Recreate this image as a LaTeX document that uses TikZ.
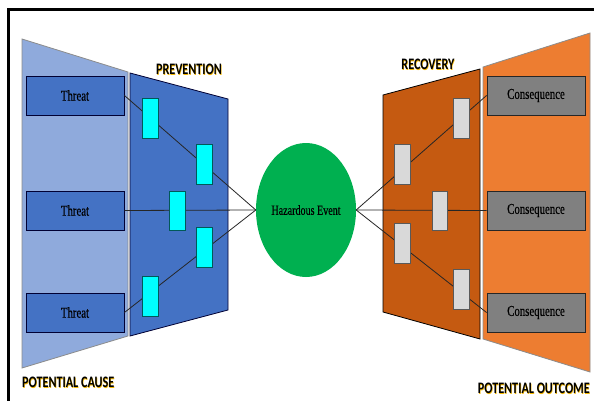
\documentclass[tikz,border=0pt]{standalone}
\usepackage{fontspec}
\setmainfont{Liberation Serif}
\newfontfamily\boxfont[FakeStretch=0.72,FakeBold=0.4]{Liberation Serif}
\newfontfamily\labfont[FakeStretch=0.76]{Carlito}
\usetikzlibrary{shapes.geometric}
\definecolor{causeblue}{HTML}{8FAADC}
\definecolor{prevblue}{HTML}{4472C4}
\definecolor{recorange}{HTML}{C55A11}
\definecolor{outorange}{HTML}{ED7D31}
\definecolor{hazgreen}{HTML}{00B050}
\definecolor{barcyan}{HTML}{00FFFF}
\definecolor{bargrey}{HTML}{D9D9D9}
\definecolor{consgrey}{HTML}{808080}
\definecolor{glow}{HTML}{F5B800}
\tikzset{
  x=1pt, y=-1pt,
  band/.style={line width=0.8pt},
  threatbox/.style={draw=black!80!blue, line width=0.9pt, fill=prevblue, minimum width=98pt, minimum height=39pt, inner sep=0pt, font=\boxfont\fontsize{15}{17}\selectfont},
  consbox/.style={draw=black!85, line width=0.9pt, fill=consgrey, minimum width=98pt, minimum height=39pt, inner sep=0pt, font=\boxfont\fontsize{15}{17}\selectfont},
  cyanbar/.style={draw=teal!70!black, line width=0.7pt, fill=barcyan, minimum width=16pt, minimum height=40pt, inner sep=0pt},
  greybar/.style={draw=black!65, line width=0.7pt, fill=bargrey, minimum width=16pt, minimum height=40pt, inner sep=0pt},
  link/.style={draw=black!85, line width=0.8pt},
  lab/.style={inner sep=0pt, font=\labfont\bfseries\fontsize{16}{18}\selectfont}
}
\newcommand{\glowtext}[1]{\makebox[0pt][l]{\raisebox{-0.5pt}{\hspace{0.5pt}\textcolor{glow}{#1}}}#1}
\begin{document}
\begin{tikzpicture}
\useasboundingbox (0,0) rectangle (594,401);
\fill[white] (0,0) rectangle (594,401);
% frame
\draw[line width=3pt] (8,403) -- (8,10) -- (596,10);
% bands
\draw[band, draw=black!45, fill=causeblue] (22,39) -- (128,72) -- (128,336) -- (22,368) -- cycle;
\draw[band, draw=black!80!blue, fill=prevblue] (130,73) -- (228,99) -- (228,310) -- (130,336) -- cycle;
\draw[band, draw=black, fill=recorange] (383,95) -- (480,69) -- (480,339) -- (383,312) -- cycle;
\draw[band, draw=black!45, fill=outorange] (483,67) -- (590,33) -- (590,372) -- (483,339) -- cycle;
% labels
\node[lab] (prev) at (189,70) {\glowtext{PREVENTION}};
\node[lab] (rec) at (428,65) {\glowtext{RECOVERY}};
\node[lab, anchor=west] (cause) at (22,383) {\glowtext{POTENTIAL CAUSE}};
\node[lab, anchor=east] (outc) at (590,389) {\glowtext{POTENTIAL OUTCOME}};
% threats and consequences
\node[threatbox] (t1) at (75,95.5) {Threat};
\node[threatbox] (t2) at (75,210.5) {Threat};
\node[threatbox] (t3) at (75,312.5) {Threat};
\node[consbox] (c1) at (536,95.5) {Consequence};
\node[consbox] (c2) at (536,210.5) {Consequence};
\node[consbox] (c3) at (536,312.5) {Consequence};
% hazardous event
\node[ellipse, fill=hazgreen, minimum width=100pt, minimum height=134pt, inner sep=0pt, font=\boxfont\fontsize{14}{16}\selectfont] (haz) at (306,210) {Hazardous Event};
% links
\draw[link] (t1.east) -- (haz.west);
\draw[link] (t2.east) -- (haz.west);
\draw[link] (t3.east) -- (haz.west);
\draw[link] (c1.west) -- (haz.east);
\draw[link] (c2.west) -- (haz.east);
\draw[link] (c3.west) -- (haz.east);
% barriers
\node[cyanbar] (p1) at (150,118) {};
\node[cyanbar] (p2) at (204.5,164) {};
\node[cyanbar, minimum height=39pt] (p3) at (177.5,210.5) {};
\node[cyanbar] (p4) at (204.5,247) {};
\node[cyanbar] (p5) at (150,296) {};
\node[greybar] (r1) at (461.5,118) {};
\node[greybar] (r2) at (402.5,164) {};
\node[greybar, minimum height=39pt, minimum width=15pt] (r3) at (439.5,210.5) {};
\node[greybar] (r4) at (402.5,243) {};
\node[greybar] (r5) at (461.5,289) {};
\end{tikzpicture}
\end{document}
